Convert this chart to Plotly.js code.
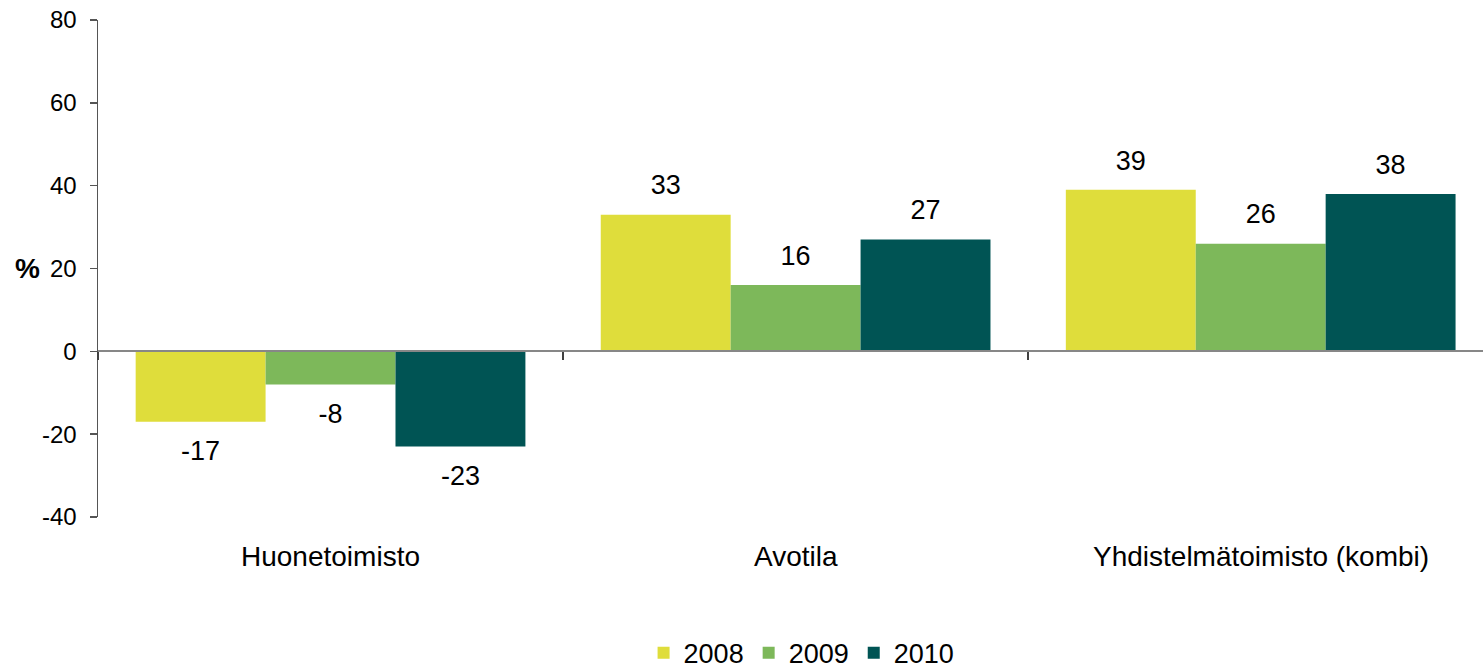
<!DOCTYPE html>
<html>
<head>
<meta charset="utf-8">
<script src="https://cdn.plot.ly/plotly-3.0.1.min.js"></script>
<style>
  html, body { margin: 0; padding: 0; background: #ffffff; }
  #chart { width: 1483px; height: 670px; }
</style>
</head>
<body>
<div id="chart"></div>
<script>
// Office types and yearly change (%)
var categories = ['Huonetoimisto', 'Avotila', 'Yhdistelmätoimisto (kombi)'];
var years = ['2008', '2009', '2010'];
var values2008 = [-17, 33, 39];
var values2009 = [-8, 16, 26];
var values2010 = [-23, 27, 38];
var yTicks = [-40, -20, 0, 20, 40, 60, 80];

var seriesValues = [values2008, values2009, values2010];
var seriesColors = ['#dfdd3b', '#7db85a', '#005454'];
var FONT = 'Liberation Sans, Arial, sans-serif';

var traces = [];
// bars
years.forEach(function (yr, i) {
  traces.push({
    type: 'bar',
    name: yr,
    x: categories,
    y: seriesValues[i],
    offsetgroup: yr,
    marker: { color: seriesColors[i], line: { width: 0 } },
    hoverinfo: 'skip'
  });
});
// value labels, grouped the same way as the bars; the invisible marker
// size sets the gap between the bar end and its label
years.forEach(function (yr, i) {
  var vals = seriesValues[i];
  traces.push({
    type: 'scatter',
    mode: 'markers+text',
    x: categories,
    y: vals,
    offsetgroup: yr,
    text: vals.map(String),
    textposition: vals.map(function (v) { return v >= 0 ? 'top center' : 'bottom center'; }),
    textfont: { family: FONT, size: 27, color: '#000000' },
    marker: { size: vals.map(function (v) { return v >= 0 ? 20 : 28; }), opacity: 0 },
    showlegend: false,
    hoverinfo: 'skip',
    cliponaxis: false
  });
});

var annotations = categories.map(function (c) {
  return {
    xref: 'x', yref: 'paper', x: c, y: 0,
    xanchor: 'center', yanchor: 'top', yshift: -22,
    text: c, showarrow: false,
    font: { family: FONT, size: 28, color: '#000000' }
  };
});
annotations.push({
  xref: 'paper', yref: 'y', x: 0, y: 20,
  xanchor: 'right', yanchor: 'middle', xshift: -56,
  text: '<b>%</b>', showarrow: false,
  font: { family: FONT, size: 28, color: '#000000' }
});

var layout = {
  width: 1483,
  height: 670,
  margin: { l: 98, r: 0, t: 20, b: 153, pad: 0, autoexpand: false },
  paper_bgcolor: '#ffffff',
  plot_bgcolor: '#ffffff',
  font: { family: FONT, size: 24, color: '#000000' },
  barmode: 'group',
  bargap: 0.162,
  bargroupgap: 0,
  scattermode: 'group',
  scattergap: 0.162,
  showlegend: true,
  legend: {
    orientation: 'h',
    x: 0.508, xanchor: 'center',
    y: -0.274, yanchor: 'middle',
    font: { family: FONT, size: 27, color: '#000000' },
    itemwidth: 30,
    traceorder: 'normal'
  },
  xaxis: {
    type: 'category',
    range: [-0.5, 2.478],
    anchor: 'free',
    position: 1 / 3,
    showline: true,
    linecolor: '#878787',
    linewidth: 2,
    tickson: 'boundaries',
    ticks: 'outside',
    ticklen: 8,
    tickcolor: '#404040',
    tickwidth: 1.5,
    showticklabels: false,
    showgrid: false,
    zeroline: false,
    fixedrange: true
  },
  yaxis: {
    range: [-40, 80],
    tickvals: yTicks,
    ticktext: yTicks.map(String),
    showline: true,
    linecolor: '#555555',
    linewidth: 1.5,
    ticks: 'outside',
    ticklen: 7,
    tickcolor: '#555555',
    tickwidth: 1.5,
    ticklabelstandoff: 8,
    tickfont: { family: FONT, size: 24, color: '#000000' },
    showgrid: false,
    zeroline: false,
    fixedrange: true
  },
  annotations: annotations
};

Plotly.newPlot('chart', traces, layout, { displayModeBar: false, staticPlot: true });
</script>
</body>
</html>
